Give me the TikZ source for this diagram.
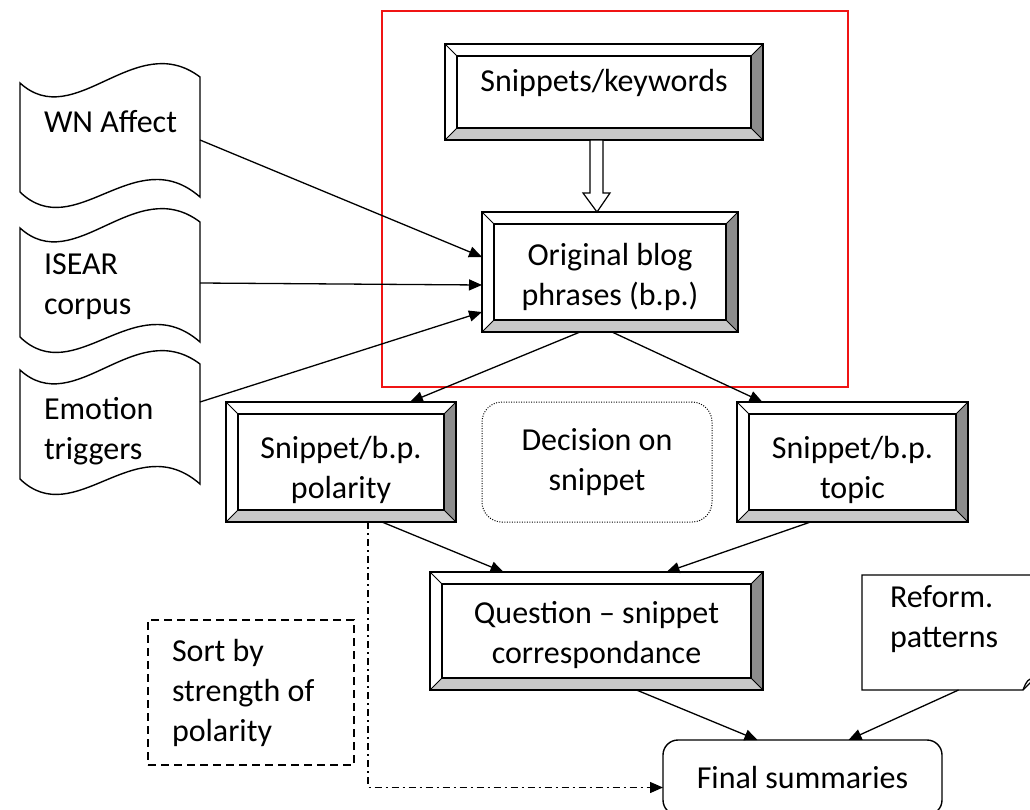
\documentclass[tikz,border=0pt]{standalone}
\usepackage{fontspec}
\setmainfont{Carlito}
\usetikzlibrary{arrows.meta, calc, positioning}
\definecolor{bevelgray}{RGB}{140,140,140}
\definecolor{bevellight}{RGB}{200,200,200}
\definecolor{framered}{RGB}{240,20,20}

\newcommand{\lift}[1]{\rule{0pt}{#1}}

\tikzset{
  every node/.style={font=\fontsize{32}{40}\selectfont, inner sep=0pt, outer sep=0pt},
  bevelbox/.style={draw, fill=white, line width=1.6pt, align=center},
  flow/.style={-{Triangle[length=13pt,width=11pt]}, line width=1.3pt},
  doc/.style={draw, fill=white, line width=1.4pt},
}

\begin{document}
\begin{tikzpicture}[x=1pt, y=-1pt]
    \useasboundingbox (0,0) rectangle (1030,809);
    \clip (0,0) rectangle (1030,809);

    % Red frame
    \draw[framered, line width=2pt] (382,11) rectangle (848,387);

    % Sources (punched tapes)
    \foreach \y in {83,228,370} {
        \draw[doc] (20,\y) .. controls (75,\y+50) and (135,\y-55) .. (200,\y-6)
            -- (200,\y+114) .. controls (135,\y+57) and (75,\y+162) .. (20,\y+109) -- cycle;
    }
    \node[anchor=west] (wn) at (44,122) {WN Affect};
    \node[anchor=west, align=left] (isear) at (44,287) {ISEAR\\corpus};
    \node[anchor=west, align=left] (emo) at (44,431) {Emotion\\triggers};
    \coordinate (wnout) at (200,140);
    \coordinate (isearout) at (200,283);
    \coordinate (emoout) at (200,402);

    % Processing boxes
    \node[bevelbox, minimum width=318, minimum height=96, text height=23pt, text depth=25pt] (snip) at (604,92) {Snippets/keywords};
    \node[bevelbox, minimum width=256, minimum height=120] (orig) at (610,272) {\lift{33pt}Original blog\\phrases (b.p.)};
    \node[bevelbox, minimum width=230, minimum height=120] (pol) at (341,462) {\lift{39pt}Snippet/b.p.\\polarity};
    \node[draw, line width=1pt, dash pattern=on 1pt off 1.5pt, rounded corners=20pt,
          minimum width=230, minimum height=120, align=center] (dec) at (597,462) {Decision on\\snippet};
    \node[bevelbox, minimum width=231, minimum height=120] (topic) at (852.5,462) {\lift{39pt}Snippet/b.p.\\topic};
    \node[bevelbox, minimum width=333, minimum height=118] (ques) at (596.5,631) {\lift{31pt}Question -- snippet\\correspondance};

    % Bevels
    \foreach \b in {snip,orig,pol,topic,ques} {
        \fill[bevellight] (\b.south west) -- (\b.south east) -- ($(\b.south east)+(-12,-12)$) -- ($(\b.south west)+(12,-12)$) -- cycle;
        \fill[bevelgray] (\b.north east) -- (\b.south east) -- ($(\b.south east)+(-12,-12)$) -- ($(\b.north east)+(-12,12)$) -- cycle;
        \draw[line width=1.6pt] (\b.north west) rectangle (\b.south east);
        \draw[line width=1.6pt] ($(\b.north west)+(12,12)$) rectangle ($(\b.south east)+(-12,-12)$);
        \draw[line width=0.8pt] (\b.north west) -- ++(12,12) (\b.north east) -- ++(-12,12)
            (\b.south west) -- ++(12,-12) (\b.south east) -- ++(-12,-12);
    }

    % Hollow arrow
    \draw[line width=1.2pt, fill=white] ($(snip.south)+(-14,0)$) -- ++(0,53) -- ++(-7,0)
        -- ($(orig.north)+(-13,0)$) -- ($(snip.south)+(6,53)$) -- ++(-7,0) -- ($(snip.south)+(-1,0)$) -- cycle;

    % Side boxes
    \node[draw, line width=1.2pt, dash pattern=on 8pt off 5pt, minimum width=206, minimum height=145,
          text width=158, align=flush left] (sort) at (251,692.5) {Sort by\\strength of\\polarity};
    \node[minimum width=183, minimum height=115] (reform) at (953.5,632.5) {};
    \node[anchor=west, align=left] (reformtxt) at ($(reform.west)+(28,-13)$) {Reform.\\patterns};
    \draw[line width=1.3pt] (reform.north west) -- (reform.north east) -- ($(reform.south east)+(0,-22)$)
        -- ($(reform.south east)+(-22,0)$) -- (reform.south west) -- cycle;
    \draw[line width=1.3pt] ($(reform.south east)+(-22,0)$) .. controls ($(reform.south east)+(-18,-10)$) .. ($(reform.south east)+(-8,-14)$);
    \node[draw, fill=white, line width=1.4pt, rounded corners=15pt, minimum width=279, minimum height=75] (final) at (802.5,777.5) {Final summaries};

    % Connectors
    \draw[flow] (wnout) -- ($(orig.west)+(0,-15)$);
    \draw[flow] (isearout) -- ($(orig.west)+(0,13)$);
    \draw[flow] (emoout) -- ($(orig.west)+(0,40)$);
    \draw[flow] ($(orig.south)+(-30,0)$) -- ($(pol.north)+(69,0)$);
    \draw[flow] ($(orig.south)+(2,0)$) -- ($(topic.north)+(-90,0)$);
    \draw[flow] ($(pol.south)+(41,0)$) -- ($(ques.north)+(-93,0)$);
    \draw[flow] ($(topic.south)+(-42,0)$) -- ($(ques.north)+(70,0)$);
    \draw[flow] ($(ques.south)+(40,0)$) -- ($(final.north)+(-45,0)$);
    \draw[flow] ($(reform.south)+(5,0)$) -- ($(final.north)+(46,0)$);
    \draw[flow, dash pattern=on 7pt off 4pt on 2pt off 4pt] ($(pol.south)+(27,0)$) |- ($(final.west)+(0,10)$);
\end{tikzpicture}
\end{document}
